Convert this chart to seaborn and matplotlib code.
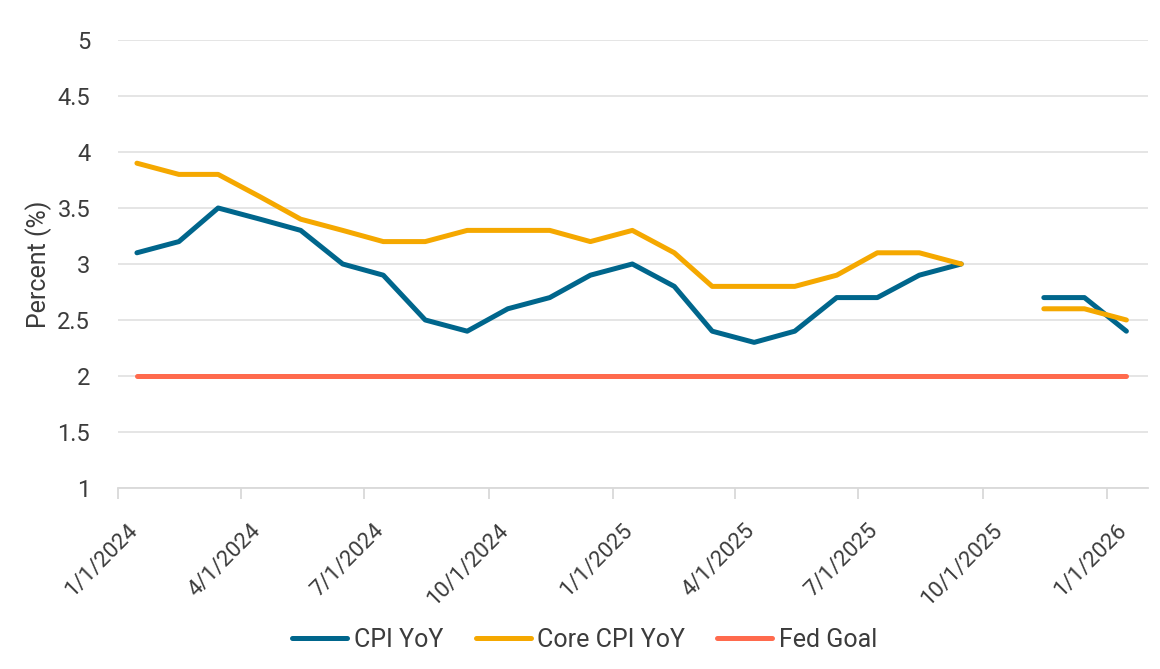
import pandas as pd
import numpy as np
import matplotlib
matplotlib.use("Agg")
import matplotlib.pyplot as plt
from matplotlib.transforms import ScaledTranslation
import seaborn as sns

months = pd.date_range("2024-01-01", periods=25, freq="MS") + pd.Timedelta(days=14)
cpi = [3.1, 3.2, 3.5, 3.4, 3.3, 3.0, 2.9, 2.5, 2.4, 2.6, 2.7, 2.9,
       3.0, 2.8, 2.4, 2.3, 2.4, 2.7, 2.7, 2.9, 3.0, np.nan, 2.7, 2.7, 2.4]
core = [3.9, 3.8, 3.8, 3.6, 3.4, 3.3, 3.2, 3.2, 3.3, 3.3, 3.3, 3.2,
        3.3, 3.1, 2.8, 2.8, 2.8, 2.9, 3.1, 3.1, 3.0, np.nan, 2.6, 2.6, 2.5]
fed = [2.0] * 25
series_names = ["CPI YoY", "Core CPI YoY", "Fed Goal"]
colors = ["#00668c", "#f5a800", "#ff6a4d"]
tick_dates = pd.to_datetime(["2024-01-01", "2024-04-01", "2024-07-01", "2024-10-01",
                             "2025-01-01", "2025-04-01", "2025-07-01", "2025-10-01",
                             "2026-01-01"])
tick_labels = ["1/1/2024", "4/1/2024", "7/1/2024", "10/1/2024", "1/1/2025",
               "4/1/2025", "7/1/2025", "10/1/2025", "1/1/2026"]

rows = []
for name, vals in zip(series_names, [cpi, core, fed]):
    seg = 0
    for d, v in zip(months, vals):
        if pd.isna(v):
            seg += 1
            continue
        rows.append({"date": d, "value": v, "series": name, "seg": f"{name}-{seg}"})
df = pd.DataFrame(rows)

sns.set_theme(style="white")
plt.rcParams["font.family"] = ["Roboto", "DejaVu Sans"]
text_color = "#3c3c3c"
fs = 17

fig = plt.figure(figsize=(11.6, 6.69), dpi=100)
ax = fig.add_axes([0.1017, 0.2706, 0.888, 0.6696])

sns.lineplot(data=df, x="date", y="value", hue="series", units="seg", estimator=None,
             palette=dict(zip(series_names, colors)), hue_order=series_names,
             linewidth=3.6, ax=ax, legend=False, solid_capstyle="round")

ax.set_ylim(1, 5)
ax.set_yticks(np.arange(1, 5.01, 0.5))
ax.set_yticklabels(["1", "1.5", "2", "2.5", "3", "3.5", "4", "4.5", "5"])
ax.set_xlim(pd.Timestamp("2024-01-01"), pd.Timestamp("2026-01-31"))
ax.set_xticks(tick_dates)

ax.grid(axis="y", color="#e3e3e3", linewidth=1.3)
ax.set_axisbelow(True)
for s in ["top", "right", "left"]:
    ax.spines[s].set_visible(False)
ax.spines["bottom"].set_color("#d9d9d9")
ax.spines["bottom"].set_linewidth(1.3)
ax.tick_params(axis="x", which="major", length=8, width=1.3, color="#d9d9d9",
               labelsize=16, labelcolor=text_color, pad=6, bottom=True)
ax.tick_params(axis="y", length=0, labelsize=fs, labelcolor=text_color, pad=20)
ax.set_xlabel("")
ax.set_ylabel("Percent (%)", fontsize=18, color=text_color, labelpad=4)

ax.set_xticklabels(tick_labels, rotation=45, ha="right", rotation_mode="anchor")
offset = ScaledTranslation(0.09, -0.13, fig.dpi_scale_trans)
for lbl in ax.get_xticklabels():
    lbl.set_transform(lbl.get_transform() + offset)

handles = [plt.Line2D([0], [0], color=c, linewidth=3.6, solid_capstyle="round") for c in colors]
fig.legend(handles, series_names, loc="center", bbox_to_anchor=(0.504, 0.043), ncol=3,
           frameon=False, fontsize=18, labelcolor=text_color, handlelength=2.2,
           handletextpad=0.25, columnspacing=1.3)

fig.savefig("out.png", dpi=100)
